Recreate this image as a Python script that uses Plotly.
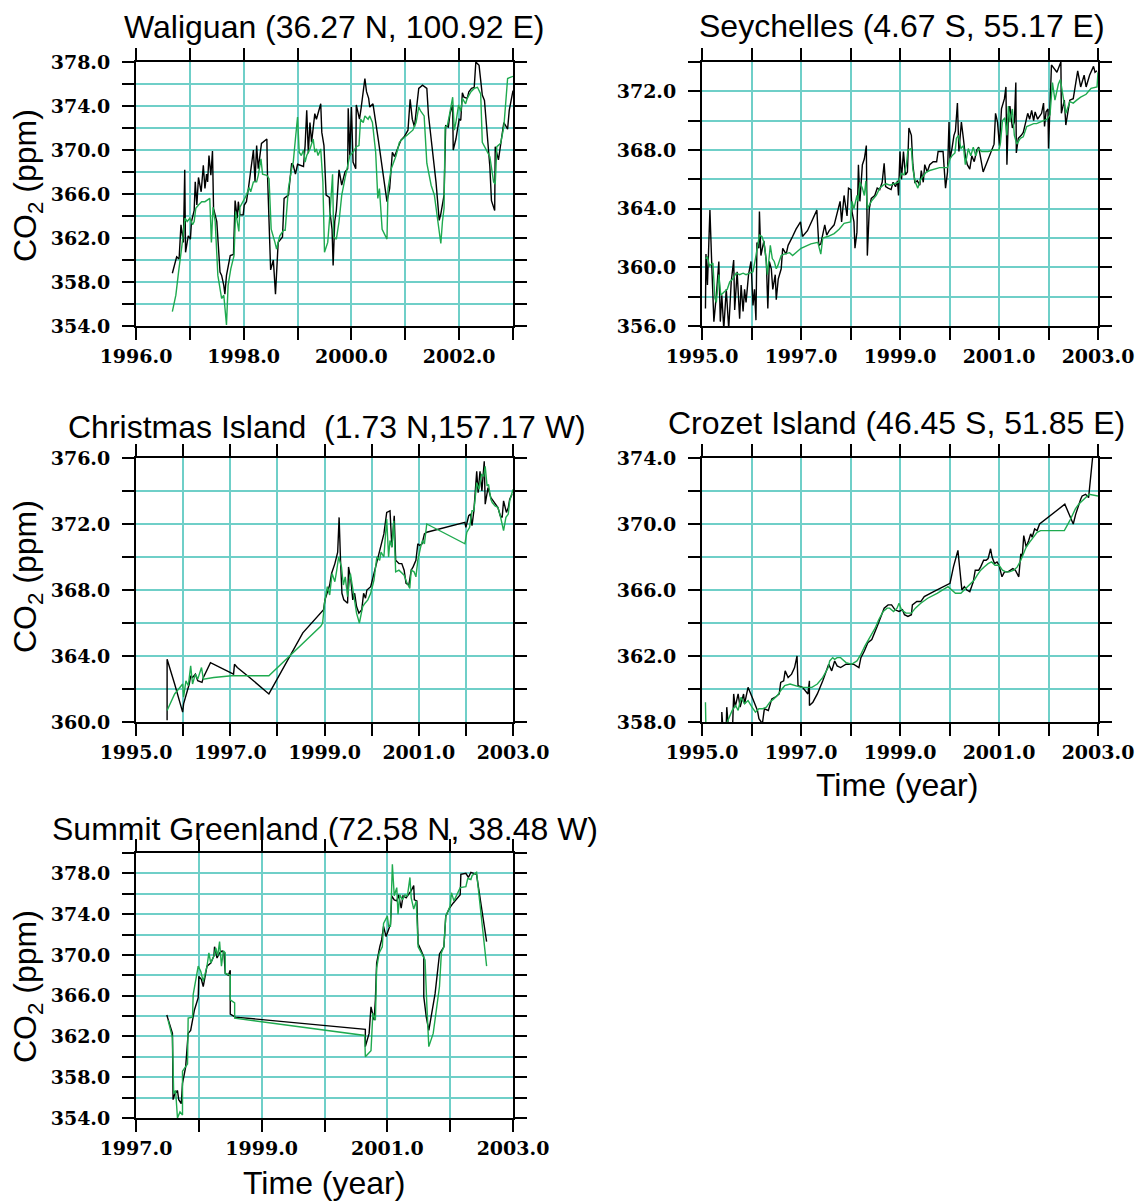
import plotly.graph_objects as go

W, H = 1140, 1203

# ---------------- data (year, CO2 ppm) ----------------
# Waliguan: black = observed, green = model
wlg_obs = [(1996.675, 358.8), (1996.755, 360.3), (1996.80, 360.1), (1996.835, 363.2), (1996.88, 361.6), (1996.905, 368.2),
           (1996.92, 360.7), (1996.97, 362.2), (1997.01, 361.9), (1997.03, 363.5), (1997.08, 364.5), (1997.10, 367.1),
           (1997.13, 365.0), (1997.16, 367.5), (1997.21, 366.2), (1997.25, 368.6), (1997.28, 366.5), (1997.31, 367.8),
           (1997.33, 367.1), (1997.355, 369.5), (1997.39, 367.7), (1997.42, 369.9), (1997.44, 364.7), (1997.50, 363.5),
           (1997.56, 358.9), (1997.59, 358.6), (1997.63, 357.7), (1997.65, 356.9), (1997.68, 358.6), (1997.75, 360.4),
           (1997.81, 360.5), (1997.84, 365.4), (1997.88, 363.8), (1997.90, 365.3), (1997.93, 364.1), (1997.99, 364.1),
           (1998.01, 365.0), (1998.05, 365.3), (1998.09, 366.6), (1998.13, 368.3), (1998.18, 370.0), (1998.21, 367.1),
           (1998.24, 370.4), (1998.27, 368.3), (1998.33, 370.6), (1998.43, 371.0), (1998.44, 368.0), (1998.50, 359.1),
           (1998.55, 360.0), (1998.59, 356.9), (1998.64, 361.6), (1998.72, 362.1), (1998.75, 365.6), (1998.83, 365.9),
           (1998.87, 368.3), (1998.89, 368.8), (1998.92, 368.6), (1998.96, 367.8), (1999.0, 368.7), (1999.046, 368.6),
           (1999.11, 368.5), (1999.14, 370.4), (1999.17, 373.6), (1999.20, 369.7), (1999.23, 372.5), (1999.26, 370.7),
           (1999.32, 373.3), (1999.35, 372.8), (1999.43, 374.2), (1999.45, 371.6), (1999.49, 370.4), (1999.53, 365.9),
           (1999.59, 365.7), (1999.60, 364.4), (1999.64, 362.8), (1999.66, 359.5), (1999.69, 363.5), (1999.72, 364.5),
           (1999.77, 368.2), (1999.82, 366.8), (1999.88, 368.0), (1999.93, 368.3), (1999.94, 373.8), (1999.97, 369.5),
           (2000.0, 373.9), (2000.03, 368.9), (2000.08, 368.3), (2000.09, 374.1), (2000.15, 372.8), (2000.18, 373.8),
           (2000.25, 376.5), (2000.28, 375.3), (2000.32, 374.7), (2000.34, 373.9), (2000.40, 374.2), (2000.50, 370.9),
           (2000.58, 368.0), (2000.66, 365.3), (2000.71, 366.5), (2000.76, 369.8), (2000.80, 369.4), (2000.86, 370.1),
           (2000.92, 370.9), (2000.98, 371.2), (2001.05, 371.8), (2001.09, 374.6), (2001.13, 372.8), (2001.17, 372.1),
           (2001.21, 374.1), (2001.25, 375.6), (2001.32, 375.9), (2001.40, 375.6), (2001.43, 373.2), (2001.50, 370.1),
           (2001.57, 367.1), (2001.63, 363.6), (2001.66, 364.2), (2001.72, 365.9), (2001.75, 372.2), (2001.80, 372.1),
           (2001.83, 373.3), (2001.88, 374.1), (2001.89, 370.0), (2001.94, 371.0), (2001.97, 371.9), (2002.0, 372.8),
           (2002.03, 372.7), (2002.06, 375.2), (2002.09, 374.8), (2002.15, 374.7), (2002.18, 375.3), (2002.23, 375.6),
           (2002.28, 375.7), (2002.31, 378.0), (2002.37, 377.7), (2002.43, 375.0), (2002.47, 374.5), (2002.57, 368.5),
           (2002.60, 365.4), (2002.66, 364.5), (2002.67, 370.3), (2002.73, 369.1), (2002.80, 371.5), (2002.83, 372.5),
           (2002.90, 371.9), (2002.93, 373.6), (2003.0, 375.4)]
wlg_mod = [(1996.675, 355.3), (1996.74, 356.8), (1996.79, 358.9), (1996.835, 360.4), (1996.86, 361.6), (1996.91, 363.8),
           (1996.95, 363.5), (1997.0, 363.8), (1997.05, 363.2), (1997.08, 363.5), (1997.11, 364.7), (1997.16, 365.0),
           (1997.22, 365.3), (1997.28, 365.3), (1997.34, 365.5), (1997.37, 365.6), (1997.40, 361.6), (1997.43, 364.8),
           (1997.47, 363.5), (1997.52, 358.6), (1997.59, 356.5), (1997.63, 356.8), (1997.68, 354.1), (1997.71, 357.7),
           (1997.76, 359.2), (1997.82, 360.4), (1997.85, 364.4), (1997.91, 362.6), (1997.93, 364.8), (1997.99, 365.3),
           (1998.05, 365.9), (1998.10, 366.6), (1998.13, 366.2), (1998.18, 367.1), (1998.24, 367.1), (1998.27, 367.7),
           (1998.32, 369.2), (1998.35, 367.8), (1998.43, 367.7), (1998.47, 367.4), (1998.51, 362.8), (1998.58, 361.6),
           (1998.61, 361.0), (1998.67, 362.2), (1998.74, 362.7), (1998.77, 362.7), (1998.80, 364.7), (1998.83, 366.5),
           (1998.89, 368.3), (1998.92, 368.9), (1998.96, 371.0), (1999.0, 373.0), (1999.03, 369.8), (1999.07, 369.5),
           (1999.11, 370.0), (1999.14, 368.9), (1999.17, 369.5), (1999.23, 370.1), (1999.29, 371.0), (1999.32, 369.8),
           (1999.35, 370.1), (1999.38, 369.5), (1999.43, 370.1), (1999.47, 367.1), (1999.50, 360.7), (1999.56, 361.6),
           (1999.60, 364.1), (1999.65, 367.8), (1999.67, 362.1), (1999.72, 361.9), (1999.77, 363.5), (1999.82, 365.9),
           (1999.88, 367.4), (1999.94, 368.9), (1999.97, 369.5), (2000.03, 369.8), (2000.09, 370.3), (2000.14, 370.4),
           (2000.17, 372.8), (2000.22, 372.5), (2000.25, 373.1), (2000.31, 372.8), (2000.34, 373.1), (2000.39, 372.5),
           (2000.45, 369.8), (2000.49, 365.6), (2000.52, 366.5), (2000.57, 362.8), (2000.66, 361.9), (2000.68, 366.5),
           (2000.74, 368.3), (2000.83, 369.5), (2000.89, 370.7), (2000.95, 371.0), (2001.02, 371.3), (2001.08, 371.6),
           (2001.14, 371.8), (2001.20, 372.5), (2001.25, 373.9), (2001.29, 373.5), (2001.35, 373.1), (2001.40, 368.8),
           (2001.48, 366.8), (2001.54, 365.9), (2001.58, 364.4), (2001.63, 362.8), (2001.66, 361.5), (2001.69, 363.5),
           (2001.72, 364.7), (2001.74, 372.1), (2001.78, 372.2), (2001.82, 373.2), (2001.85, 374.1), (2001.88, 374.8),
           (2001.91, 371.8), (2001.94, 372.5), (2001.99, 374.1), (2002.03, 373.5), (2002.06, 374.7), (2002.12, 374.2),
           (2002.15, 374.7), (2002.22, 375.3), (2002.28, 375.6), (2002.34, 375.7), (2002.40, 375.1), (2002.43, 370.7),
           (2002.57, 369.4), (2002.64, 367.1), (2002.67, 366.9), (2002.70, 370.3), (2002.77, 370.6), (2002.83, 372.1),
           (2002.90, 376.5), (2003.0, 376.7)]

# Seychelles
sey_obs = [(1995.07, 357.2), (1995.08, 360.9), (1995.11, 358.8), (1995.16, 363.9), (1995.20, 359.9), (1995.24, 356.3),
           (1995.29, 358.1), (1995.34, 360.4), (1995.37, 356.3), (1995.40, 358.1), (1995.44, 355.8), (1995.49, 358.5),
           (1995.54, 355.8), (1995.59, 359.0), (1995.64, 360.5), (1995.66, 357.1), (1995.71, 359.7), (1995.76, 356.5),
           (1995.79, 358.8), (1995.83, 357.0), (1995.86, 358.5), (1995.89, 357.6), (1995.94, 359.5), (1995.99, 360.4),
           (1996.03, 357.4), (1996.06, 358.5), (1996.09, 356.4), (1996.11, 361.7), (1996.15, 361.3), (1996.16, 363.8),
           (1996.19, 360.8), (1996.25, 361.8), (1996.30, 360.4), (1996.33, 357.2), (1996.36, 360.4), (1996.40, 359.9),
           (1996.43, 358.5), (1996.48, 359.5), (1996.50, 357.8), (1996.54, 359.2), (1996.60, 359.9), (1996.63, 361.3),
           (1996.70, 360.9), (1996.74, 361.5), (1996.83, 362.1), (1996.90, 362.6), (1996.99, 363.1), (1997.03, 362.1),
           (1997.13, 362.5), (1997.24, 363.3), (1997.32, 363.9), (1997.36, 361.5), (1997.40, 361.6), (1997.48, 362.9),
           (1997.52, 362.2), (1997.57, 362.5), (1997.67, 362.9), (1997.79, 364.5), (1997.82, 363.1), (1997.87, 364.9),
           (1997.93, 363.5), (1997.96, 365.4), (1998.01, 365.3), (1998.03, 363.8), (1998.07, 363.1), (1998.09, 361.3),
           (1998.13, 362.4), (1998.16, 367.0), (1998.19, 364.5), (1998.24, 367.0), (1998.28, 367.4), (1998.32, 368.3),
           (1998.34, 360.8), (1998.38, 364.0), (1998.42, 364.7), (1998.49, 364.9), (1998.54, 365.4), (1998.59, 365.3),
           (1998.64, 365.8), (1998.68, 367.1), (1998.71, 365.5), (1998.76, 365.4), (1998.82, 365.3), (1998.86, 365.8),
           (1998.91, 365.5), (1998.95, 365.9), (1998.97, 364.9), (1999.0, 367.9), (1999.03, 366.0), (1999.07, 367.9),
           (1999.11, 366.3), (1999.15, 366.5), (1999.18, 369.5), (1999.23, 369.0), (1999.26, 367.0), (1999.30, 365.8),
           (1999.35, 365.9), (1999.40, 365.6), (1999.43, 366.6), (1999.47, 365.8), (1999.50, 367.0), (1999.55, 366.5),
           (1999.60, 367.0), (1999.67, 367.2), (1999.74, 367.2), (1999.77, 367.9), (1999.82, 367.9), (1999.87, 367.9),
           (1999.92, 365.4), (1999.96, 366.5), (1999.99, 369.9), (2000.01, 367.4), (2000.05, 368.1), (2000.09, 369.0),
           (2000.12, 369.3), (2000.16, 371.2), (2000.19, 367.9), (2000.24, 369.9), (2000.28, 368.8), (2000.32, 367.6),
           (2000.36, 367.0), (2000.41, 366.7), (2000.45, 367.6), (2000.50, 367.2), (2000.55, 368.0), (2000.59, 368.2),
           (2000.68, 366.5), (2000.78, 367.4), (2000.86, 368.1), (2000.90, 368.4), (2000.93, 370.5), (2000.97, 369.9),
           (2001.01, 368.3), (2001.05, 370.8), (2001.11, 371.5), (2001.14, 372.3), (2001.16, 367.0), (2001.19, 370.4),
           (2001.22, 371.0), (2001.27, 369.5), (2001.31, 369.9), (2001.34, 372.6), (2001.35, 367.8), (2001.39, 368.8),
           (2001.45, 369.0), (2001.49, 369.2), (2001.54, 369.9), (2001.58, 370.5), (2001.62, 370.1), (2001.66, 370.7),
           (2001.70, 370.0), (2001.73, 370.6), (2001.78, 370.1), (2001.83, 370.4), (2001.86, 370.5), (2001.90, 371.2),
           (2001.92, 369.6), (2001.95, 370.6), (2001.99, 370.8), (2002.0, 368.1), (2002.03, 371.0), (2002.06, 373.8),
           (2002.17, 373.3), (2002.25, 374.0), (2002.26, 370.5), (2002.32, 371.4), (2002.35, 369.7), (2002.43, 371.4),
           (2002.50, 371.5), (2002.59, 373.4), (2002.65, 372.3), (2002.72, 373.1), (2002.76, 372.3), (2002.83, 373.1),
           (2002.91, 373.7), (2002.94, 373.3), (2002.98, 373.4)]
sey_mod = [(1995.07, 360.6), (1995.11, 360.7), (1995.15, 360.1), (1995.22, 360.3), (1995.26, 357.9), (1995.29, 357.6),
           (1995.34, 359.5), (1995.38, 358.1), (1995.44, 358.3), (1995.51, 358.5), (1995.56, 359.0), (1995.62, 359.2),
           (1995.69, 359.6), (1995.76, 359.5), (1995.83, 359.6), (1995.89, 359.5), (1995.96, 359.6), (1996.03, 359.7),
           (1996.07, 360.4), (1996.13, 361.7), (1996.16, 362.2), (1996.21, 362.1), (1996.25, 361.7), (1996.28, 361.0),
           (1996.32, 359.5), (1996.34, 360.1), (1996.38, 361.5), (1996.42, 360.6), (1996.46, 360.4), (1996.50, 359.9),
           (1996.53, 360.1), (1996.60, 360.8), (1996.66, 360.9), (1996.77, 361.0), (1996.83, 360.8), (1997.0, 361.3),
           (1997.20, 361.6), (1997.34, 361.7), (1997.40, 360.9), (1997.44, 362.0), (1997.54, 362.1), (1997.67, 362.3),
           (1997.77, 362.6), (1997.87, 363.0), (1998.0, 363.1), (1998.03, 364.5), (1998.07, 364.0), (1998.13, 364.9),
           (1998.15, 364.5), (1998.19, 365.8), (1998.24, 365.4), (1998.28, 364.9), (1998.31, 365.9), (1998.34, 364.0),
           (1998.42, 364.5), (1998.52, 364.9), (1998.59, 365.4), (1998.66, 365.6), (1998.72, 365.7), (1998.80, 365.6),
           (1998.89, 365.7), (1998.97, 365.8), (1999.03, 366.4), (1999.08, 366.3), (1999.13, 367.0), (1999.16, 368.0),
           (1999.23, 368.1), (1999.26, 366.7), (1999.31, 365.8), (1999.36, 365.4), (1999.42, 366.0), (1999.47, 366.2),
           (1999.53, 366.5), (1999.60, 366.6), (1999.70, 366.7), (1999.80, 366.8), (1999.96, 366.8), (2000.01, 367.4),
           (2000.05, 367.6), (2000.11, 367.8), (2000.14, 368.8), (2000.18, 369.0), (2000.23, 368.1), (2000.28, 368.3),
           (2000.32, 367.0), (2000.38, 368.1), (2000.43, 367.6), (2000.48, 368.2), (2000.53, 367.6), (2000.58, 368.1),
           (2000.65, 367.9), (2000.78, 367.9), (2000.89, 368.0), (2001.0, 368.0), (2001.03, 368.5), (2001.07, 370.0),
           (2001.12, 370.2), (2001.16, 369.0), (2001.19, 371.0), (2001.22, 369.9), (2001.27, 370.8), (2001.31, 369.0),
           (2001.36, 368.4), (2001.43, 368.8), (2001.49, 368.9), (2001.56, 369.6), (2001.63, 369.7), (2001.70, 369.8),
           (2001.76, 369.8), (2001.83, 369.9), (2001.90, 370.0), (2001.97, 370.1), (2002.03, 370.4), (2002.08, 372.6),
           (2002.13, 371.4), (2002.20, 372.5), (2002.24, 372.8), (2002.30, 371.4), (2002.35, 370.5), (2002.43, 371.3),
           (2002.50, 371.2), (2002.57, 371.4), (2002.65, 371.6), (2002.76, 371.8), (2002.86, 372.2), (2002.98, 372.3),
           (2003.0, 373.3)]

# Christmas Island
chr_obs = [(1995.66, 360.1), (1995.66, 363.8), (1995.82, 362.3), (1995.99, 360.6), (1996.01, 361.1), (1996.05, 361.5),
           (1996.09, 361.9), (1996.13, 362.3), (1996.16, 362.8), (1996.20, 362.7), (1996.26, 362.9), (1996.31, 362.5),
           (1996.40, 362.4), (1996.43, 362.7), (1996.58, 363.6), (1996.80, 363.3), (1997.07, 362.9), (1997.09, 363.5),
           (1997.15, 363.3), (1997.41, 362.7), (1997.82, 361.7), (1998.54, 365.4), (1998.88, 366.5), (1998.92, 366.6),
           (1998.98, 366.8), (1999.01, 367.4), (1999.06, 367.9), (1999.11, 368.3), (1999.15, 369.0), (1999.22, 369.6),
           (1999.28, 370.3), (1999.31, 372.4), (1999.34, 369.8), (1999.37, 367.8), (1999.41, 367.4), (1999.49, 367.2),
           (1999.51, 369.4), (1999.56, 368.6), (1999.60, 367.4), (1999.64, 367.8), (1999.68, 367.0), (1999.73, 366.6),
           (1999.79, 366.8), (1999.83, 367.8), (1999.87, 367.5), (1999.90, 368.0), (1999.98, 368.2), (2000.05, 369.0),
           (2000.13, 369.8), (2000.20, 370.6), (2000.26, 371.4), (2000.32, 372.7), (2000.39, 372.8), (2000.43, 370.6),
           (2000.48, 372.5), (2000.51, 369.8), (2000.58, 369.6), (2000.64, 369.6), (2000.69, 369.2), (2000.73, 368.4),
           (2000.79, 368.3), (2000.84, 369.2), (2000.88, 369.4), (2000.94, 369.8), (2000.98, 370.8), (2001.02, 370.7),
           (2001.07, 370.8), (2001.12, 371.4), (2001.17, 371.5), (2001.98, 372.1), (2002.0, 371.8), (2002.06, 372.5),
           (2002.10, 372.6), (2002.13, 371.9), (2002.17, 372.8), (2002.23, 375.2), (2002.26, 373.9), (2002.30, 375.2),
           (2002.34, 374.0), (2002.39, 375.8), (2002.41, 373.2), (2002.47, 374.2), (2002.53, 373.6), (2002.58, 373.4),
           (2002.64, 373.2), (2002.68, 373.0), (2002.73, 372.5), (2002.77, 372.4), (2002.80, 373.4), (2002.86, 372.7),
           (2002.90, 373.0), (2002.93, 373.5), (2002.98, 373.8)]
chr_mod = [(1995.66, 360.7), (1995.82, 361.7), (1995.99, 362.3), (1996.01, 361.5), (1996.06, 362.5), (1996.11, 362.2),
           (1996.16, 363.4), (1996.20, 362.3), (1996.26, 362.9), (1996.31, 362.6), (1996.39, 363.3), (1996.43, 362.6),
           (1996.65, 362.7), (1997.03, 362.8), (1997.82, 362.8), (1998.92, 365.8), (1998.96, 366.0), (1999.0, 367.2),
           (1999.06, 368.2), (1999.11, 367.7), (1999.16, 369.0), (1999.22, 368.5), (1999.26, 369.2), (1999.30, 370.0),
           (1999.36, 369.4), (1999.40, 368.3), (1999.44, 368.8), (1999.49, 367.6), (1999.55, 369.0), (1999.59, 368.2),
           (1999.64, 367.4), (1999.68, 366.6), (1999.74, 366.0), (1999.77, 366.4), (1999.81, 367.0), (1999.86, 367.2),
           (1999.92, 367.4), (1999.98, 367.8), (2000.05, 368.6), (2000.11, 370.0), (2000.17, 369.8), (2000.20, 370.3),
           (2000.26, 370.0), (2000.32, 372.3), (2000.36, 370.0), (2000.39, 371.0), (2000.43, 370.6), (2000.47, 372.2),
           (2000.51, 369.1), (2000.58, 369.2), (2000.64, 369.0), (2000.69, 368.9), (2000.74, 368.5), (2000.81, 368.1),
           (2000.84, 369.2), (2000.90, 369.1), (2000.94, 368.8), (2000.98, 369.8), (2001.04, 370.6), (2001.08, 371.0),
           (2001.12, 370.8), (2001.17, 372.0), (2001.98, 370.8), (2002.02, 371.5), (2002.08, 371.8), (2002.13, 372.8),
           (2002.17, 372.8), (2002.23, 374.5), (2002.28, 374.1), (2002.33, 375.0), (2002.38, 374.9), (2002.41, 375.5),
           (2002.45, 374.3), (2002.48, 374.4), (2002.53, 373.5), (2002.56, 373.3), (2002.62, 373.1), (2002.68, 373.0),
           (2002.73, 372.5), (2002.77, 371.9), (2002.80, 371.6), (2002.85, 372.4), (2002.90, 372.6), (2002.93, 373.4),
           (2003.0, 374.1)]

# Crozet Island
crz_obs = [(1995.40, 357.8), (1995.40, 358.6), (1995.42, 357.8), (1995.49, 357.8), (1995.50, 358.9), (1995.53, 357.8),
           (1995.62, 357.9), (1995.64, 359.7), (1995.67, 358.9), (1995.73, 359.7), (1995.77, 358.9), (1995.84, 359.7),
           (1995.86, 359.1), (1995.93, 360.1), (1996.04, 359.3), (1996.12, 358.7), (1996.15, 358.2), (1996.22, 357.9),
           (1996.26, 358.8), (1996.34, 358.7), (1996.41, 359.4), (1996.48, 359.5), (1996.56, 359.7), (1996.59, 360.4),
           (1996.65, 360.5), (1996.68, 361.1), (1996.74, 360.7), (1996.81, 360.9), (1996.87, 361.3), (1996.92, 362.0),
           (1996.94, 360.2), (1997.03, 360.1), (1997.14, 359.7), (1997.17, 360.5), (1997.17, 359.0), (1997.24, 359.2),
           (1997.33, 359.7), (1997.44, 360.5), (1997.56, 361.5), (1997.62, 361.1), (1997.68, 361.7), (1997.73, 361.4),
           (1997.80, 361.3), (1997.91, 361.5), (1998.06, 361.5), (1998.17, 361.3), (1998.21, 361.9), (1998.28, 362.3),
           (1998.35, 362.8), (1998.43, 363.0), (1998.54, 363.8), (1998.61, 364.4), (1998.68, 364.9), (1998.76, 365.1),
           (1998.83, 365.1), (1998.90, 364.8), (1998.98, 364.7), (1999.05, 364.8), (1999.09, 364.5), (1999.16, 364.4),
           (1999.23, 364.5), (1999.25, 365.1), (1999.34, 365.3), (1999.42, 365.3), (1999.49, 365.6), (1999.68, 365.9),
           (1999.82, 366.1), (2000.01, 366.4), (2000.08, 367.4), (2000.17, 368.4), (2000.25, 366.0), (2000.30, 366.2),
           (2000.35, 366.0), (2000.41, 365.9), (2000.48, 366.5), (2000.52, 367.2), (2000.59, 367.2), (2000.63, 367.4),
           (2000.69, 367.8), (2000.74, 367.8), (2000.78, 367.9), (2000.83, 368.5), (2000.86, 368.0), (2000.91, 367.6),
           (2000.96, 367.7), (2001.00, 367.5), (2001.06, 366.8), (2001.11, 367.1), (2001.18, 367.1), (2001.23, 367.2),
           (2001.28, 367.3), (2001.33, 367.2), (2001.40, 366.8), (2001.44, 368.2), (2001.47, 368.0), (2001.50, 369.3),
           (2001.55, 368.6), (2001.60, 369.0), (2001.64, 369.4), (2001.67, 369.2), (2001.72, 369.7), (2001.77, 369.6),
           (2001.82, 370.0), (2002.33, 371.2), (2002.50, 370.0), (2002.55, 370.6), (2002.59, 371.0), (2002.65, 371.5),
           (2002.68, 371.7), (2002.75, 371.8), (2002.81, 371.6), (2002.89, 374.0)]
crz_mod = [(1995.07, 359.2), (1995.08, 357.5), (1995.48, 357.5), (1995.51, 358.0), (1995.61, 358.7), (1995.68, 359.0),
           (1995.73, 358.7), (1995.79, 359.5), (1995.86, 359.1), (1995.93, 359.3), (1996.01, 358.9), (1996.08, 358.6),
           (1996.15, 358.8), (1996.22, 358.8), (1996.30, 358.9), (1996.37, 359.2), (1996.45, 359.4), (1996.52, 359.6),
           (1996.59, 359.9), (1996.67, 360.2), (1996.78, 360.3), (1996.89, 360.2), (1997.0, 360.1), (1997.11, 360.1),
           (1997.22, 360.1), (1997.33, 360.3), (1997.44, 360.7), (1997.55, 361.3), (1997.58, 361.7), (1997.64, 361.9),
           (1997.68, 361.8), (1997.73, 361.9), (1997.80, 361.9), (1997.91, 361.6), (1998.02, 361.5), (1998.13, 361.7),
           (1998.21, 362.1), (1998.29, 362.6), (1998.39, 363.1), (1998.50, 363.7), (1998.57, 364.2), (1998.66, 364.7),
           (1998.74, 364.9), (1998.79, 364.9), (1998.87, 364.7), (1998.94, 364.9), (1998.98, 365.2), (1999.03, 364.8),
           (1999.12, 364.6), (1999.23, 364.6), (1999.31, 364.9), (1999.42, 365.2), (1999.56, 365.5), (1999.75, 365.8),
           (1999.97, 366.2), (2000.04, 366.0), (2000.12, 365.8), (2000.23, 365.8), (2000.30, 366.0), (2000.37, 366.2),
           (2000.45, 366.4), (2000.50, 366.6), (2000.56, 366.9), (2000.63, 367.2), (2000.70, 367.4), (2000.78, 367.6),
           (2000.85, 367.7), (2000.92, 367.5), (2001.0, 367.5), (2001.07, 367.2), (2001.14, 367.1), (2001.21, 367.1),
           (2001.30, 367.2), (2001.37, 367.4), (2001.44, 367.8), (2001.50, 368.2), (2001.55, 368.6), (2001.62, 368.9),
           (2001.70, 369.2), (2001.77, 369.5), (2001.84, 369.6), (2001.99, 369.6), (2002.13, 369.6), (2002.32, 369.6),
           (2002.43, 370.2), (2002.54, 370.9), (2002.61, 371.2), (2002.68, 371.4), (2002.74, 371.6), (2002.82, 371.8),
           (2003.0, 371.7)]

# Summit Greenland
sum_obs = [(1997.49, 364.1), (1997.58, 362.3), (1997.59, 355.8), (1997.62, 356.4), (1997.66, 356.7), (1997.68, 355.8),
           (1997.72, 355.4), (1997.74, 357.4), (1997.79, 359.0), (1997.83, 362.3), (1997.87, 362.6), (1997.90, 363.6),
           (1997.93, 364.6), (1997.99, 365.8), (1998.0, 367.9), (1998.04, 367.6), (1998.07, 366.9), (1998.13, 368.9),
           (1998.19, 369.2), (1998.24, 369.9), (1998.25, 370.8), (1998.29, 369.7), (1998.33, 370.2), (1998.37, 370.4),
           (1998.40, 370.2), (1998.42, 368.2), (1998.47, 368.0), (1998.50, 368.5), (1998.50, 364.2), (1998.58, 363.9),
           (2000.65, 362.7), (2000.65, 361.0), (2000.71, 362.3), (2000.74, 364.9), (2000.79, 363.6), (2000.81, 365.6),
           (2000.83, 369.2), (2000.88, 370.8), (2000.91, 371.5), (2000.94, 372.8), (2000.98, 371.8), (2001.02, 372.5),
           (2001.05, 373.0), (2001.07, 375.8), (2001.11, 375.4), (2001.15, 375.3), (2001.18, 375.9), (2001.22, 374.6),
           (2001.25, 375.8), (2001.30, 375.6), (2001.34, 375.9), (2001.38, 376.3), (2001.42, 376.8), (2001.43, 375.4),
           (2001.47, 375.3), (2001.49, 371.1), (2001.54, 370.4), (2001.58, 369.8), (2001.58, 365.9), (2001.62, 363.9),
           (2001.66, 362.6), (2001.70, 363.9), (2001.76, 366.2), (2001.83, 370.1), (2001.90, 370.8), (2001.93, 373.8),
           (2001.99, 374.6), (2002.05, 375.1), (2002.11, 375.6), (2002.16, 375.9), (2002.17, 377.9), (2002.25, 378.0),
           (2002.29, 377.6), (2002.33, 378.1), (2002.42, 377.9), (2002.58, 371.3)]
sum_mod = [(1997.51, 363.6), (1997.58, 361.9), (1997.60, 356.4), (1997.63, 356.7), (1997.66, 354.0), (1997.70, 354.6),
           (1997.74, 354.3), (1997.74, 358.6), (1997.82, 359.3), (1997.83, 363.8), (1997.90, 363.9), (1997.91, 366.1),
           (1997.99, 368.9), (1998.03, 368.4), (1998.07, 367.4), (1998.13, 368.9), (1998.16, 370.2), (1998.19, 369.2),
           (1998.24, 369.9), (1998.27, 370.7), (1998.30, 369.9), (1998.33, 371.3), (1998.36, 368.9), (1998.39, 370.4),
           (1998.42, 370.2), (1998.42, 368.2), (1998.50, 368.0), (1998.50, 365.6), (1998.57, 365.3), (1998.57, 363.8),
           (2000.64, 362.1), (2000.65, 360.0), (2000.74, 360.6), (2000.77, 364.3), (2000.81, 363.6), (2000.83, 368.7),
           (2000.87, 370.2), (2000.92, 370.8), (2000.94, 373.1), (2001.0, 373.8), (2001.02, 372.8), (2001.05, 372.8),
           (2001.08, 378.9), (2001.11, 375.8), (2001.15, 376.6), (2001.17, 374.0), (2001.20, 375.9), (2001.24, 375.4),
           (2001.28, 375.9), (2001.32, 375.8), (2001.36, 377.6), (2001.38, 375.6), (2001.42, 374.5), (2001.46, 375.3),
           (2001.49, 370.8), (2001.60, 369.5), (2001.63, 364.9), (2001.66, 361.0), (2001.73, 362.3), (2001.83, 366.9),
           (2001.86, 370.2), (2001.90, 370.8), (2001.93, 373.8), (2002.0, 374.8), (2002.02, 376.1), (2002.06, 375.3),
           (2002.16, 376.6), (2002.25, 376.7), (2002.28, 377.5), (2002.33, 377.4), (2002.35, 377.8), (2002.42, 378.1),
           (2002.58, 368.9)]

# ---------------- panel configuration ----------------
GRID = "#6FCFC8"
GREEN = "#1FAA4F"
TITLE_FONT = "Liberation Sans"
TICK_FONT = "DejaVu Serif"

panels = [
    dict(title="Waliguan (36.27 N, 100.92 E)", obs=wlg_obs, mod=wlg_mod, xr=(1996, 2003), xlab=(1996, 1998, 2000, 2002),
         yr=(354, 378), px=(136, 513), py=(62, 326), tpos=(334, 27), ytitle=186, xtitle=None),
    dict(title="Seychelles (4.67 S, 55.17 E)", obs=sey_obs, mod=sey_mod, xr=(1995, 2003), xlab=(1995, 1997, 1999, 2001, 2003),
         yr=(356, 374), px=(702, 1098), py=(62, 326), tpos=(902, 26), ytitle=None, xtitle=None),
    dict(title="Christmas Island  (1.73 N,157.17 W)", obs=chr_obs, mod=chr_mod, xr=(1995, 2003), xlab=(1995, 1997, 1999, 2001, 2003),
         yr=(360, 376), px=(136, 513), py=(458, 722), tpos=(327, 427), ytitle=577, xtitle=None),
    dict(title="Crozet Island (46.45 S, 51.85 E)", obs=crz_obs, mod=crz_mod, xr=(1995, 2003), xlab=(1995, 1997, 1999, 2001, 2003),
         yr=(358, 374), px=(702, 1098), py=(458, 722), tpos=(896, 423), ytitle=None, xtitle=(897, 785)),
    dict(title="Summit Greenland (72.58 N, 38.48 W)", obs=sum_obs, mod=sum_mod, xr=(1997, 2003), xlab=(1997, 1999, 2001, 2003),
         yr=(354, 380), px=(136, 513), py=(853, 1118), tpos=(325, 829), ytitle=987, xtitle=(324, 1183)),
]

fig = go.Figure()
annotations = []
for i, p in enumerate(panels, start=1):
    xa = "x" if i == 1 else f"x{i}"
    ya = "y" if i == 1 else f"y{i}"
    for series, color in ((p["obs"], "black"), (p["mod"], GREEN)):
        fig.add_trace(go.Scatter(x=[s[0] for s in series], y=[s[1] for s in series], mode="lines",
                                 line=dict(color=color, width=1.4), xaxis=xa, yaxis=ya,
                                 showlegend=False, hoverinfo="skip"))
    x0, x1 = p["xr"]
    y0, y1 = p["yr"]
    x_all = list(range(x0, x1 + 1))
    y_all = list(range(y0, y1 + 1, 2))
    x_major = [v for v in x_all if v in p["xlab"]]
    y_major = [v for v in y_all if (v - y0) % 4 == 0]
    common = dict(showline=True, linecolor="black", linewidth=2, mirror="ticks", ticks="outside",
                  ticklen=12, tickwidth=2, tickcolor="black", showgrid=True, gridcolor=GRID, gridwidth=2,
                  zeroline=False, automargin=False,
                  tickfont=dict(family=TICK_FONT, size=19, color="black", weight="bold"),
                  tickmode="array")
    minor_common = dict(ticks="outside", ticklen=12, tickwidth=2, tickcolor="black", showgrid=True,
                        gridcolor=GRID, gridwidth=2, tickmode="array")
    xkey = "xaxis" if i == 1 else f"xaxis{i}"
    ykey = "yaxis" if i == 1 else f"yaxis{i}"
    fig.update_layout({
        xkey: dict(common, domain=[p["px"][0] / W, p["px"][1] / W], range=[x0, x1], anchor=ya,
                   tickvals=x_major, ticktext=[f"{v}.0" for v in x_major],
                   minor=dict(minor_common, tickvals=[v for v in x_all if v not in x_major])),
        ykey: dict(common, domain=[1 - p["py"][1] / H, 1 - p["py"][0] / H], range=[y0, y1], anchor=xa,
                   tickvals=y_major, ticktext=[f"{v}.0" for v in y_major], ticklabelstandoff=8,
                   minor=dict(minor_common, tickvals=[v for v in y_all if v not in y_major])),
    })
    annotations.append(dict(text=p["title"], x=p["tpos"][0] / W, y=1 - p["tpos"][1] / H, xref="paper", yref="paper",
                            xanchor="center", yanchor="middle", showarrow=False,
                            font=dict(family=TITLE_FONT, size=32, color="black")))
    if p["ytitle"] is not None:
        annotations.append(dict(text="CO<sub>2</sub> (ppm)", x=27 / W, y=1 - p["ytitle"] / H, xref="paper", yref="paper",
                                xanchor="center", yanchor="middle", textangle=-90, showarrow=False,
                                font=dict(family=TITLE_FONT, size=32, color="black")))
    if p["xtitle"] is not None:
        annotations.append(dict(text="Time (year)", x=p["xtitle"][0] / W, y=1 - p["xtitle"][1] / H, xref="paper",
                                yref="paper", xanchor="center", yanchor="middle", showarrow=False,
                                font=dict(family=TITLE_FONT, size=32, color="black")))

fig.update_layout(width=W, height=H, autosize=False, margin=dict(l=0, r=0, t=0, b=0, autoexpand=False),
                  template="none", paper_bgcolor="white", plot_bgcolor="white", annotations=annotations,
                  showlegend=False)
fig.write_html("out.html", config={"displayModeBar": False, "staticPlot": True},
               post_script="document.body.style.margin='0';document.body.style.padding='0';"
                           "document.body.style.overflow='hidden';")
